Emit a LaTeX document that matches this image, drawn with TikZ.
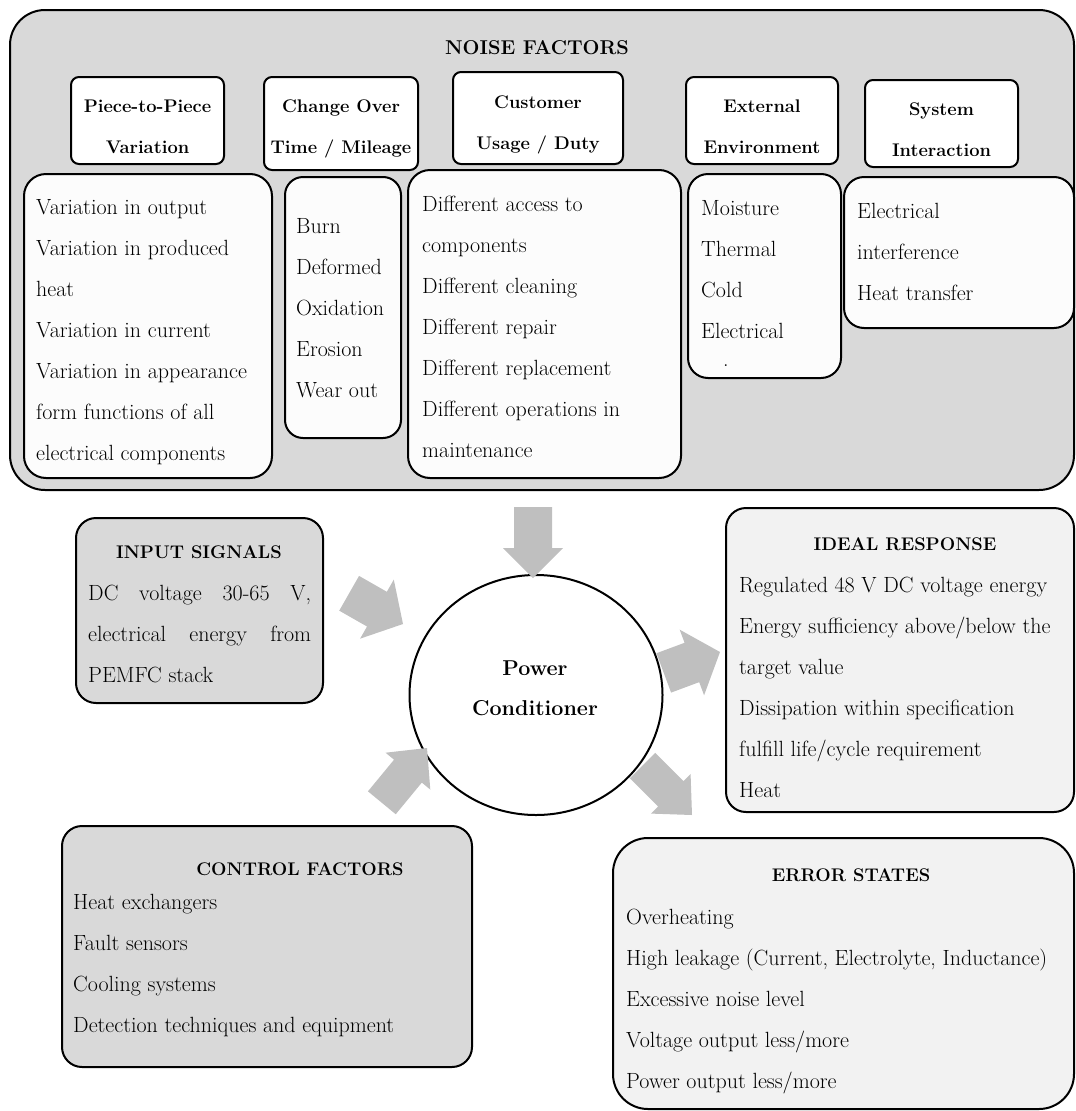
\documentclass[tikz,border=0pt]{standalone}
\usepackage{fontspec}
\usepackage{tikz}
\usetikzlibrary{shapes.geometric,calc}
\definecolor{noisegray}{HTML}{D9D9D9}
\definecolor{lightbox}{HTML}{FCFCFC}
\definecolor{palegray}{HTML}{F2F2F2}
\definecolor{arrowgray}{HTML}{BFBFBF}
\newcommand\bodyfont{\fontsize{22}{41}\selectfont}
\newcommand\headfont{\fontsize{18.3}{41}\selectfont\bfseries}
\newcommand\boxat[6]{\node[frame=#6, anchor=north west, minimum width={#4-#2}, minimum height={#5-#3}] (#1) at (#2,-#3) {};}
\newcommand\blockarrow[5]{\begin{scope}[shift={(#1)},rotate=#2]
 \fill[arrowgray] (0,0) -- (-30,#4) -- (-30,#5) -- (-#3,#5) -- (-#3,-#5) -- (-30,-#5) -- (-30,-#4) -- cycle;
\end{scope}}
\begin{document}
\begin{tikzpicture}[x=1pt,y=1pt,
  frame/.style={draw=black, line width=2pt, rounded corners=#1, inner sep=0pt, outer sep=0pt},
  body/.style={font=\bodyfont, align=left, inner sep=0pt, anchor=base west},
  head/.style={font=\headfont, align=center, inner sep=0pt, anchor=base},
  noisefill/.style={fill=noisegray},
  whitefill/.style={fill=white},
  lightfill/.style={fill=lightbox},
  palefill/.style={fill=palegray}]
\useasboundingbox (0,0) rectangle (1076,-1111);

% noise factor frame
\boxat{noise}{10}{10}{1074}{490}{35pt,noisefill}
\node[head, font=\fontsize{20}{41}\selectfont\bfseries] (noisetitle) at (537,-54) {NOISE FACTORS};

% header boxes (base anchor = baseline of last line)
\boxat{h1}{71}{77}{224}{164}{8pt,whitefill}
\boxat{h2}{264}{77}{418}{170}{8pt,whitefill}
\boxat{h3}{453}{72}{623}{164}{8pt,whitefill}
\boxat{h4}{686}{77}{838}{164}{8pt,whitefill}
\boxat{h5}{865}{80}{1018}{167}{8pt,whitefill}
\node[head] (h1t) at (147.5,-153) {Piece-to-Piece\\Variation};
\node[head] (h2t) at (341,-153) {Change Over\\Time / Mileage};
\node[head] (h3t) at (538,-149) {Customer\\Usage / Duty};
\node[head] (h4t) at (762,-153) {External\\Environment};
\node[head] (h5t) at (941.5,-156) {System\\Interaction};

% content boxes
\boxat{c1}{24}{174}{272}{478}{22pt,lightfill}
\boxat{c2}{285}{177}{401}{438}{18pt,lightfill}
\boxat{c3}{408}{170}{681}{478}{22pt,lightfill}
\boxat{c4}{688}{174}{841}{378}{20pt,lightfill}
\boxat{c5}{844}{177}{1074}{328}{20pt,lightfill}
\node[body] (c1t) at (36,-460) {Variation in output\\Variation in produced\\heat\\Variation in current\\Variation in appearance\\form functions of all\\electrical components};
\node[body] (c2t) at (296,-397) {Burn\\Deformed\\Oxidation\\Erosion\\Wear out};
\node[body] (c3t) at (422,-457) {Different access to\\components\\Different cleaning\\Different repair\\Different replacement\\Different operations in\\maintenance};
\node[body] (c4t) at (701,-338) {Moisture\\Thermal\\Cold\\Electrical};
\node[body] (c4dot) at (723,-366) {.};
\node[body] (c5t) at (857,-300) {Electrical\\interference\\Heat transfer};

% input signals
\boxat{input}{76}{518}{323}{703}{20pt,noisefill}
\node[head] (inputtitle) at (199,-558) {INPUT SIGNALS};
\node[body] (inputt) at (88,-682) {\makebox[223pt][s]{DC voltage 30-65 V,}\\\makebox[223pt][s]{electrical energy from}\\PEMFC stack};

% ideal response
\boxat{ideal}{726}{508}{1074}{812}{20pt,palefill}
\node[head] (idealtitle) at (905,-550) {IDEAL RESPONSE};
\node[body] (idealt) at (739,-797) {Regulated 48 V DC voltage energy\\Energy sufficiency above/below the\\target value\\Dissipation within specification\\fulfill life/cycle requirement\\Heat};

% error states
\boxat{error}{613}{838}{1074}{1109}{35pt,palefill}
\node[head] (errortitle) at (851,-881) {ERROR STATES};
\node[body] (errort) at (626,-1088) {Overheating\\High leakage (Current, Electrolyte, Inductance)\\Excessive noise level\\Voltage output less/more\\Power output less/more};

% control factors
\boxat{control}{62}{826}{472}{1067}{20pt,noisefill}
\node[head] (controltitle) at (300,-875) {CONTROL FACTORS};
\node[body] (controlt) at (73,-1032) {Heat exchangers\\Fault sensors\\Cooling systems\\Detection techniques and equipment};

% power conditioner
\node[ellipse, draw=black, line width=2pt, fill=white, minimum width=253, minimum height=240, inner sep=0pt] (pc) at (536,-695) {};
\node[head, font=\fontsize{21.5}{40}\selectfont\bfseries] (pct) at (535,-715) {Power\\Conditioner};

% block arrows
\coordinate (tipN) at (533,-578);
\coordinate (tipI) at (403,-624);
\coordinate (tipC) at (427,-748);
\coordinate (tipR) at (720,-652);
\coordinate (tipE) at (692,-815);
\blockarrow{tipN}{-90}{71}{30}{19}
\blockarrow{tipI}{-29.7}{62}{34}{20}
\blockarrow{tipC}{50.5}{71}{29}{18}
\blockarrow{tipR}{20.4}{60}{35}{21}
\blockarrow{tipE}{-45}{70}{28}{18}
\end{tikzpicture}
\end{document}
